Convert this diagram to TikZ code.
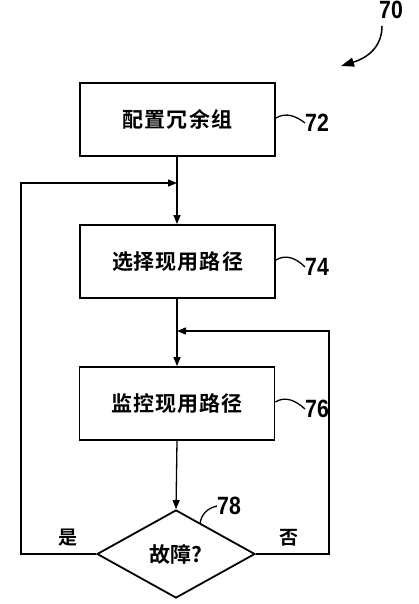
\documentclass[tikz,border=0pt]{standalone}
\usepackage{fontspec}
\usetikzlibrary{shapes.geometric,arrows.meta}
\newfontfamily\cjk{Noto Sans CJK SC}[BoldFont={Noto Sans CJK SC Bold}]
\newfontfamily\numfont{Liberation Sans}
\tikzset{
  stepbox/.style={draw, line width=1.8pt, minimum width=195pt, minimum height=73pt, inner sep=0pt,
    font=\cjk\bfseries\fontsize{21}{23}\selectfont},
  decbox/.style={draw, diamond, line width=1.8pt, minimum width=158pt, minimum height=88pt, inner sep=0pt,
    font=\cjk\bfseries\fontsize{21}{23}\selectfont},
  conn/.style={line width=1.3pt, -{Triangle[length=9pt,width=7pt]}},
  lead/.style={line width=1.3pt},
  refnum/.style={font=\numfont\bfseries\fontsize{25}{25}\selectfont, xscale=0.85, inner sep=0pt},
  yn/.style={font=\cjk\bfseries\fontsize{19}{21}\selectfont, inner sep=0pt}
}
\begin{document}
\begin{tikzpicture}[x=1pt,y=-1pt]
\useasboundingbox (0,0) rectangle (418,604);
\node[stepbox] (b72) at (177.5,119.5) {配\hspace{1.5pt}置\hspace{1.5pt}冗\hspace{1.5pt}余\hspace{1.5pt}组};
\node[stepbox] (b74) at (177.5,261.5) {选\hspace{1pt}择\hspace{1pt}现\hspace{1pt}用\hspace{1pt}路\hspace{1pt}径};
\node[stepbox] (b76) at (177,403.5) {监\hspace{1pt}控\hspace{1pt}现\hspace{1pt}用\hspace{1pt}路\hspace{1pt}径};
\node[decbox] (d78) at (176,554) {故障?};
\coordinate (j1) at (177,183);
\coordinate (j2) at (177,331);
\coordinate (l1) at (21,554);
\coordinate (l2) at (21,183);
\coordinate (r1) at (329,554);
\coordinate (r2) at (329,331);
\draw[conn] (b72.south -| j1) -- (b74.north -| j1);
\draw[conn] (b74.south -| j1) -- (b76.north -| j1);
\draw[conn] (b76.south -| j1) -- (d78.north);
\draw[conn] (d78.west) -- (l1) -- (l2) -- (j1);
\draw[conn] (d78.east) -- (r1) -- (r2) -- (j2);
\node[yn] (yes) at (68,538) {是};
\node[yn] (no) at (289,538) {否};
% reference numerals
\node[refnum] (n72) at (317,123) {72};
\node[refnum] (n74) at (317,267) {74};
\node[refnum] (n76) at (317,409) {76};
\node[refnum] (n78) at (229,506) {78};
\node[refnum] (n70) at (391,10) {70};
\coordinate (c72) at (b72.east |- 0,118);
\draw[lead] (c72) .. controls (286,112) and (296,116) .. (n72.west);
\coordinate (c74) at (b74.east |- 0,260);
\draw[lead] (c74) .. controls (286,254) and (296,258) .. (n74.west);
\coordinate (c76) at (b76.east |- 0,402);
\draw[lead] (c76) .. controls (285,396) and (295,400) .. (n76.west);
\coordinate (c78) at (200,524);
\draw[lead] (c78) .. controls (201,514) and (208,508) .. (n78.west);
\coordinate (a70s) at (382,26);
\coordinate (a70e) at (341,66);
\draw[line width=1.5pt, -{Triangle[length=13pt,width=9pt]}] (a70s) .. controls (382,45) and (370,57) .. (a70e);
\end{tikzpicture}
\end{document}
